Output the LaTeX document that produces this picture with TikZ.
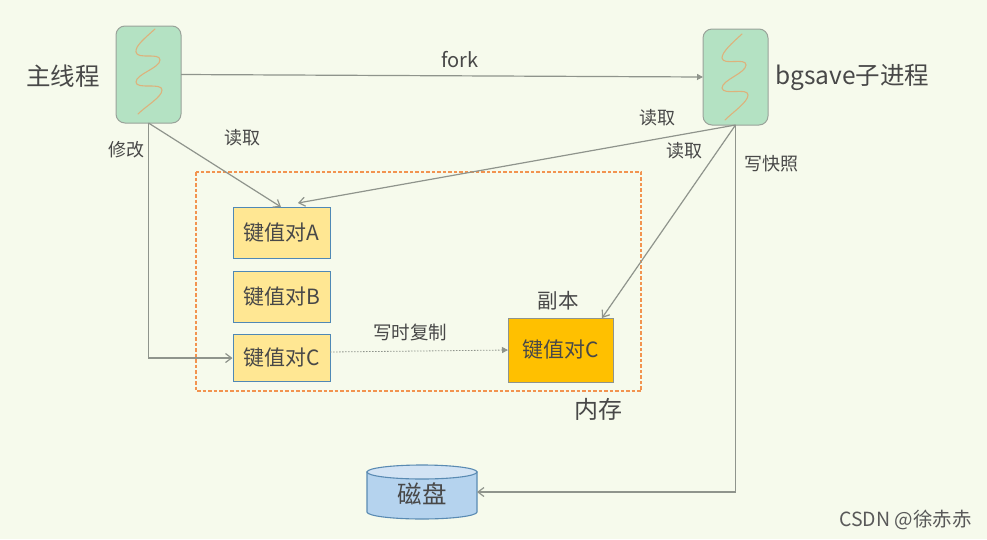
\documentclass[tikz,border=0pt]{standalone}
\usepackage{fontspec}
\setmainfont{Noto Sans CJK SC}
\usetikzlibrary{arrows.meta}
\definecolor{bgc}{HTML}{F6FAEC}
\definecolor{thr}{HTML}{B4E2C3}
\definecolor{thrb}{HTML}{9AA39A}
\definecolor{wav}{HTML}{DDB27C}
\definecolor{ln}{HTML}{8F948C}
\definecolor{kv}{HTML}{FFE793}
\definecolor{kvb}{HTML}{4F88B5}
\definecolor{kc}{HTML}{FFC000}
\definecolor{dashc}{HTML}{F2934F}
\definecolor{diskc}{HTML}{B5D3EE}
\definecolor{disktop}{HTML}{D2E3F4}
\definecolor{diskb}{HTML}{5A8BB3}
\definecolor{txt}{HTML}{484848}
\tikzset{x=1pt,y=-1pt,
 thread/.style={draw=thrb,fill=thr,rounded corners=9pt,line width=1pt,minimum width=65pt,minimum height=97pt,inner sep=0pt},
 kvbox/.style={draw=kvb,fill=kv,line width=1pt,minimum width=97pt,minimum height=51pt,inner sep=0pt,text=txt,font=\fontsize{21}{23}\selectfont},
 link/.style={draw=ln,line width=1.2pt,-{Straight Barb[length=6pt,width=9pt]}},
 solidtip/.style={draw=ln,line width=1.2pt,-{Triangle[length=6pt,width=6pt]}},
 lab/.style={text=txt,inner sep=0pt,font=\fontsize{18}{20}\selectfont},
 big/.style={text=txt,inner sep=0pt,font=\fontsize{24.5}{27}\selectfont},
 wave/.style={draw=wav,line width=1.1pt,line cap=round}}
\begin{document}
\begin{tikzpicture}
\useasboundingbox (0,0) rectangle (987,539);
\fill[bgc] (0,0) rectangle (987,539);
\node[thread] (main) at (148.5,74.5) {};
\node[thread,minimum height=96pt] (bg) at (735.5,77) {};
\draw[wave] (155,29) .. controls (145,38) and (135,46) .. (136,52) .. controls (137,60) and (160,52) .. (160,60) .. controls (160,68) and (136,74) .. (136,82) .. controls (136,90) and (162,82) .. (162,90) .. controls (162,97) and (146,106) .. (138,114);
\draw[wave] (742,34) .. controls (732,43) and (722,52) .. (722,58) .. controls (723,66) and (746,57) .. (746,65) .. controls (746,73) and (722,80) .. (722,88) .. controls (723,96) and (748,87) .. (748,95) .. controls (748,102) and (733,112) .. (725,120);
\node[big] (tmain) at (63,76) {主线程};
\node[big,anchor=west] (tbg) at (775,77) {bgsave子进程};
\draw[draw=dashc,line width=1.2pt,dash pattern=on 3.5pt off 2pt] (196,172) rectangle (641,391);
\node[kvbox] (a) at (281.5,232.5) {键值对A};
\node[kvbox] (b) at (281.5,296.5) {键值对B};
\node[kvbox,minimum height=47pt] (c) at (281.5,358) {键值对C};
\node[kvbox,fill=kc,draw=ln,minimum width=105pt,minimum height=64pt] (c2) at (560.5,350) {键值对C};
\node[lab,font=\fontsize{20.5}{22}\selectfont] (fb) at (558,301) {副本};
\node[big,font=\fontsize{24}{26}\selectfont] (mem) at (598,409) {内存};
\draw[draw=diskb,fill=diskc,line width=1.1pt] (367,472) -- (367,512) arc[start angle=180,end angle=360,x radius=55,y radius=-7] -- (477,472) -- cycle;
\draw[draw=diskb,fill=disktop,line width=1.1pt] (422,472) ellipse[x radius=55,y radius=7];
\node[big] (disktxt) at (422,494) {磁盘};
\coordinate (mr) at (181,74.5);
\coordinate (bl) at (703,77);
\draw[solidtip] (mr) -- (bl);
\node[lab,font=\fontsize{20}{22}\selectfont] (fork) at (460,60) {fork};
\coordinate (m1) at (148.5,123);
\coordinate (bg1) at (735.5,125);
\coordinate (ca) at (281,207);
\coordinate (ra) at (298,203);
\coordinate (rc) at (602,318);
\coordinate (dr) at (477,492);
\coordinate (cs) at (330,352);
\coordinate (ce) at (508,350);
\draw[link] (m1) -- (ca);
\draw[link] (m1) |- (c.west);
\draw[link] (bg1) -- (ra);
\draw[link] (bg1) -- (rc);
\draw[link] (bg1) |- (dr);
\draw[solidtip,line width=.8pt,dash pattern=on 1.5pt off 1.5pt] (cs) -- (ce);
\node[lab] (l1) at (126,150) {修改};
\node[lab] (l2) at (242,138) {读取};
\node[lab] (l3) at (657,118) {读取};
\node[lab] (l4) at (684,151) {读取};
\node[lab] (l5) at (771.5,164) {写快照};
\node[lab,font=\fontsize{18.5}{20}\selectfont] (l6) at (410,332) {写时复制};
\node[anchor=east,text=black!65,inner sep=0pt,font=\fontsize{19.5}{21}\selectfont] (wm) at (972,520) {CSDN @徐赤赤};
\end{tikzpicture}
\end{document}
